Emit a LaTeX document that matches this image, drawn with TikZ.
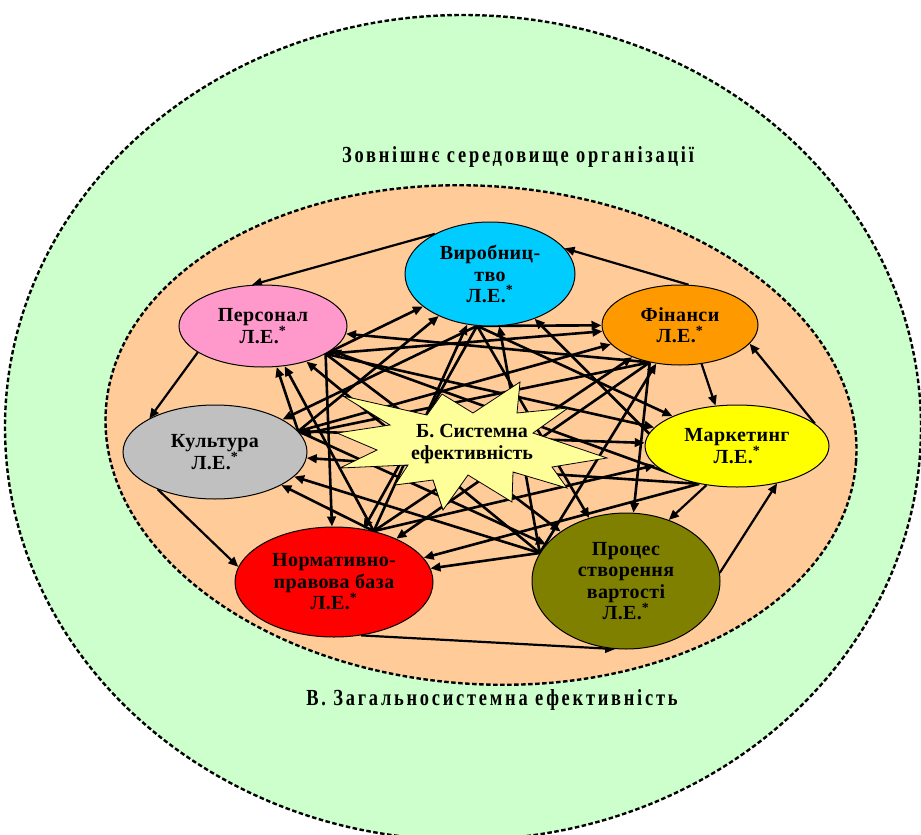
\documentclass[tikz,border=0pt]{standalone}
\usepackage{fontspec}
\setmainfont{Liberation Serif}
\usetikzlibrary{arrows.meta,shapes.geometric}

\pgfdeclarelayer{back}
\pgfdeclarelayer{links}
\pgfsetlayers{back,links,main}

\definecolor{envgreen}{HTML}{CCFFCC}
\definecolor{syspeach}{HTML}{FFCC99}
\definecolor{vyrobcol}{HTML}{00CCFF}
\definecolor{personcol}{HTML}{FF99CC}
\definecolor{financecol}{HTML}{FF9900}
\definecolor{marketcol}{HTML}{FFFF00}
\definecolor{culturecol}{HTML}{C0C0C0}
\definecolor{normcol}{HTML}{FF0000}
\definecolor{processcol}{HTML}{808000}
\definecolor{starcol}{HTML}{FFFF99}

\tikzset{
  unit/.style={ellipse, draw=black, line width=1pt, inner sep=0pt, align=center,
    font=\fontsize{20}{21.5}\selectfont\bfseries\addfontfeatures{LetterSpace=2}},
  zone/.style={draw=black, line width=2.4pt, dash pattern=on 4.5pt off 2.5pt},
  zonelabel/.style={font=\fontsize{23}{25}\selectfont\bfseries\addfontfeatures{FakeStretch=0.8, LetterSpace=12}},
  link/.style={line width=2.6pt, -{Triangle[length=10pt,width=8.5pt]}},
  ring/.style={line width=2.2pt, -{Triangle[length=10pt,width=8.5pt]}},
}

\begin{document}
\begin{tikzpicture}[x=1pt, y=-1pt, line join=miter]

  %% ════ 外圈：组织外部环境 / 总体系统效率 ════
  \begin{pgfonlayer}{back}
    \fill[white] (0,0) rectangle (921,835);
    \filldraw[zone, fill=envgreen] (463,427.5) ellipse [x radius=458, y radius=412.5];
    \filldraw[zone, fill=syspeach, rotate around={-4:(481,435)}]
      (481,435) ellipse [x radius=376, y radius=249];
  \end{pgfonlayer}

  \node[zonelabel] (envlabel) at (518,157) {Зовнішнє середовище організації};
  \node[zonelabel] (totallabel) at (492,700) {В. Загальносистемна ефективність};

  %% ════ 中心：系统效率（爆炸星） ════
  \filldraw[fill=starcol, draw=black, line width=0.8pt]
    (337,433) -- (390,425) -- (343,396) -- (427,415) -- (442,394) -- (473,413)
    -- (520,382) -- (517,413) -- (568,408) -- (533,433) -- (607,458) -- (552,467)
    -- (567,488) -- (513,472) -- (512,502) -- (468,475) -- (443,510) -- (433,480)
    -- (395,485) -- (408,465) -- (340,468) -- (377,450) -- cycle;
  \node[font=\fontsize{20}{22}\selectfont\bfseries, align=center] (sys) at (472,444)
    {Б. Системна\\ефективність};

  %% ════ 七个局部单元 ════
  \node[unit, fill=vyrobcol, minimum width=170pt, minimum height=104pt] (vyrob) at (490,274)
    {Виробниц-\\тво\\Л.Е.\textsuperscript{*}};
  \node[unit, fill=personcol, minimum width=168pt, minimum height=82pt] (person) at (263,326)
    {Персонал\\Л.Е.\textsuperscript{*}};
  \node[unit, fill=financecol, minimum width=156pt, minimum height=80pt] (finance) at (680,325)
    {Фінанси\\Л.Е.\textsuperscript{*}};
  \node[unit, fill=marketcol, minimum width=184pt, minimum height=82pt] (market) at (737,446)
    {Маркетинг\\Л.Е.\textsuperscript{*}};
  \node[unit, fill=culturecol, minimum width=184pt, minimum height=94pt] (culture) at (215,452)
    {Культура\\Л.Е.\textsuperscript{*}};
  \node[unit, fill=normcol, minimum width=198pt, minimum height=110pt] (norm) at (334,582)
    {Нормативно-\\правова база\\Л.Е.\textsuperscript{*}};
  \node[unit, fill=processcol, minimum width=188pt, minimum height=136pt] (process) at (626,581)
    {Процес\\створення\\вартості\\Л.Е.\textsuperscript{*}};

  %% ════ 连线 ════
  \begin{pgfonlayer}{links}
    % 外环：相邻单元之间
    \foreach \src/\dst in {vyrob.144/person.105, finance.78/vyrob.19,
        finance.-61/market.118, market.16/finance.-15, market.-128/process.55,
        process.5/market.-43, norm.-63/process.-99, culture.-147/norm.171,
        person.-158/culture.153}
      \draw[ring] (\src) -- (\dst);

    % 内网：每个单元从一个汇点向其余单元发线
    \foreach \src/\dst in {%
        person.-24/vyrob, person.-24/finance, person.-24/market, person.-24/process, person.-24/norm,
        vyrob.-104/finance, vyrob.-104/market, vyrob.-104/process, vyrob.-104/norm, vyrob.-104/culture,
        finance.-129/person, finance.-129/process, finance.-129/norm, finance.-129/culture,
        market.-135/person, market.-135/vyrob, market.-135/norm, market.-135/culture,
        culture.14/person, culture.14/vyrob, culture.14/finance, culture.14/market, culture.14/process,
        norm.52/person, norm.52/vyrob, norm.52/finance, norm.52/market, norm.52/culture,
        process.162/person, process.162/vyrob, process.162/finance, process.162/norm, process.162/culture}
      \draw[link] (\src) -- (\dst);
  \end{pgfonlayer}

  \pgfresetboundingbox
  \path[use as bounding box] (0,0) rectangle (921,835);
\end{tikzpicture}
\end{document}
